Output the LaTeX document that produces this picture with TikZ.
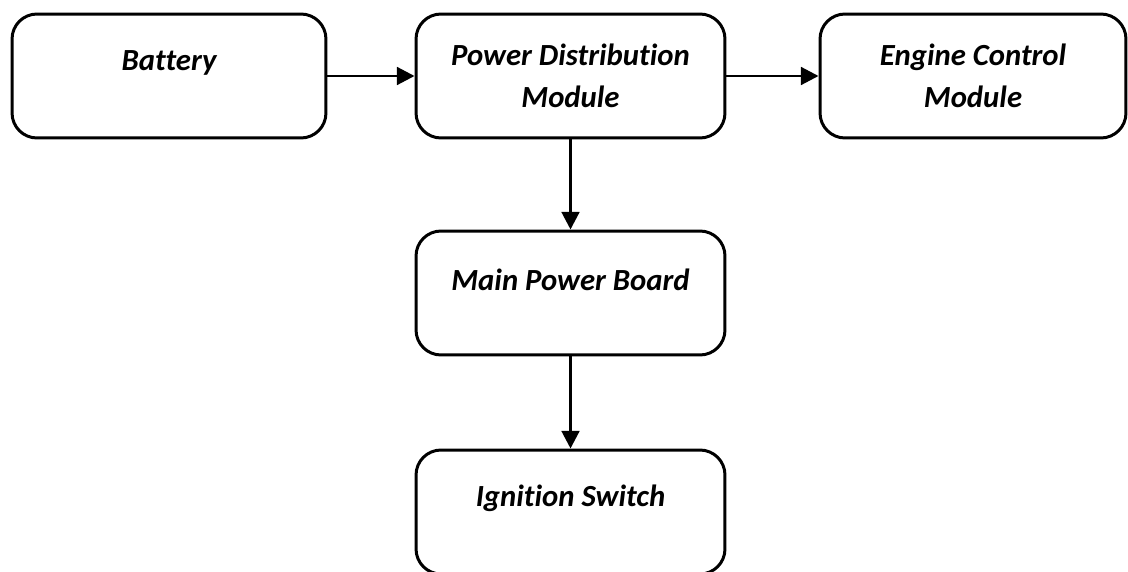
\documentclass[tikz,border=0pt]{standalone}
\usepackage{fontspec}
\setmainfont{Carlito}[Ligatures=CommonOff]
\usepackage{tikz}
\usetikzlibrary{positioning, arrows.meta}

\begin{document}
\begin{tikzpicture}[x=0.02cm, y=-0.02cm,
  boxtext/.style={font=\fontsize{17.5}{24}\selectfont\bfseries\itshape},
  block/.style={draw, line width=1.7pt, rounded corners=0.5cm, minimum height=2.48cm, align=center, boxtext},
  flow/.style={line width=1.7pt, -{Triangle[length=10pt, width=10pt]}}]

\useasboundingbox (0,0) rectangle (1128,571);
\clip (0,0) rectangle (1128,571);

\node[block, minimum width=6.28cm] (battery) at (169,76) {};
\node[boxtext] (batterytxt) at (169,63) {Battery};

\node[block, minimum width=6.18cm] (pdm) at (570.5,76) {Power Distribution\\Module};

\node[block, minimum width=6.12cm] (ecm) at (973,76) {Engine Control\\Module};

\node[block, minimum width=6.18cm] (mpb) at (570.5,293) {};
\node[boxtext] (mpbtxt) at (570.5,280) {Main Power Board};

\node[block, minimum width=6.18cm] (ign) at (570.5,512) {};
\node[boxtext] (igntxt) at (570.5,498) {Ignition Switch};

\draw[flow] (battery) -- (pdm);
\draw[flow] (pdm) -- (ecm);
\draw[flow] (pdm) -- (mpb);
\draw[flow] (mpb) -- (ign);
\end{tikzpicture}
\end{document}
